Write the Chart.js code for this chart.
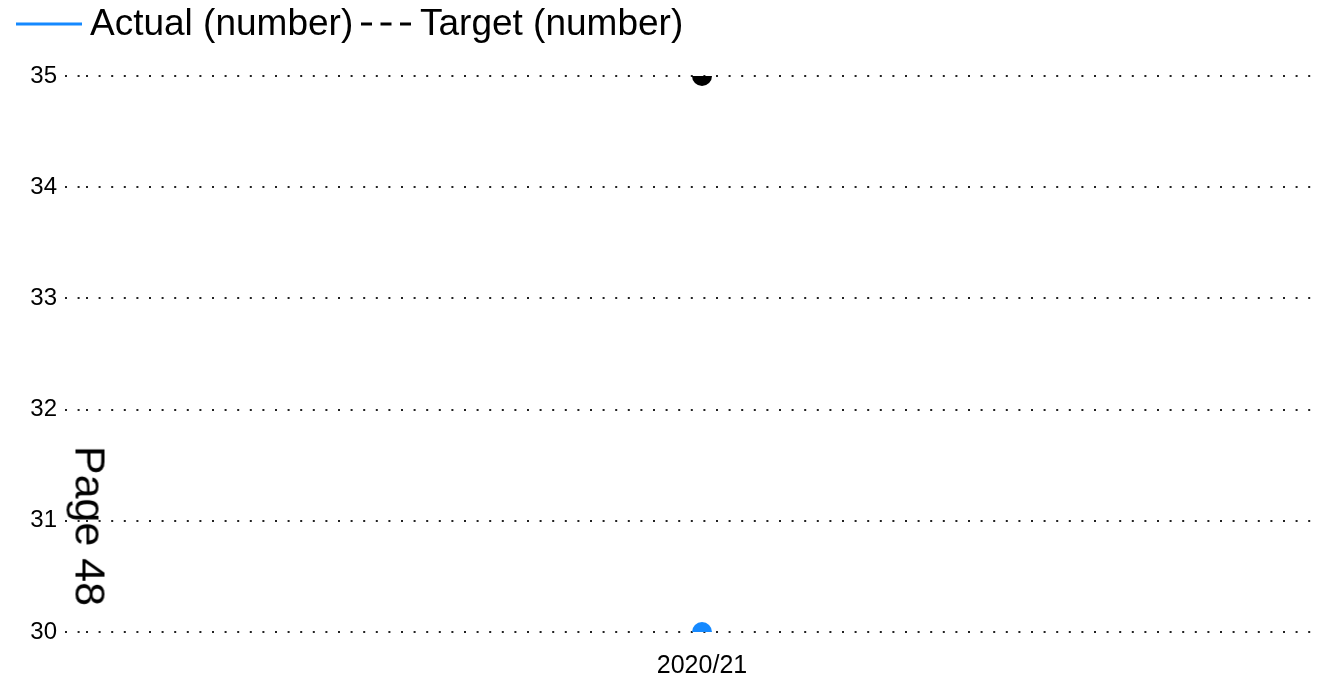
<!DOCTYPE html>
<html>
<head>
<meta charset="utf-8">
<script src="https://cdn.jsdelivr.net/npm/chart.js@4.4.1/dist/chart.umd.min.js"></script>
<style>
html,body{margin:0;padding:0;background:#fff;}
#wrap{position:relative;width:1321px;height:673px;overflow:hidden;}
#page{position:absolute;left:90px;top:526px;transform:translate(-50%,-50%) rotate(90deg);font:43px "Liberation Sans",Arial,sans-serif;white-space:nowrap;color:#000;line-height:1;}
</style>
</head>
<body>
<div id="wrap">
<canvas id="c" width="1321" height="673"></canvas>
<div id="page">Page 48</div>
</div>
<script>
const categories = ['2020/21'];
const actualValues = [30];
const targetValues = [35];
const seriesNames = ['Actual (number)', 'Target (number)'];
const yMin = 30, yMax = 35, yStep = 1;

const FONT = '"Liberation Sans", Arial, sans-serif';

const legendPlugin = {
  id: 'customLegend',
  afterDraw(chart, args, opts) {
    const ctx = chart.ctx;
    ctx.save();
    ctx.font = opts.fontSize + 'px ' + FONT;
    ctx.textBaseline = 'middle';
    ctx.textAlign = 'left';
    const y = opts.y;
    chart.data.datasets.forEach((ds, i) => {
      const [x0, x1, tx] = opts.items[i];
      ctx.beginPath();
      ctx.setLineDash(ds.borderDash || []);
      ctx.strokeStyle = ds.borderColor;
      ctx.lineWidth = 3;
      ctx.moveTo(x0, y);
      ctx.lineTo(x1, y);
      ctx.stroke();
      ctx.setLineDash([]);
      ctx.fillStyle = '#000';
      ctx.fillText(ds.label, tx, y + 1);
    });
    ctx.restore();
  }
};

new Chart(document.getElementById('c'), {
  type: 'line',
  data: {
    labels: categories,
    datasets: [
      {
        label: seriesNames[0],
        data: actualValues,
        borderColor: '#1589ff',
        backgroundColor: '#1589ff',
        pointBackgroundColor: '#1589ff',
        pointBorderWidth: 0,
        pointRadius: 10,
        borderWidth: 3,
        clip: 0
      },
      {
        label: seriesNames[1],
        data: targetValues,
        borderColor: '#000',
        backgroundColor: '#000',
        pointBackgroundColor: '#000',
        pointBorderWidth: 0,
        pointRadius: 10,
        borderWidth: 3,
        borderDash: [11, 8.5],
        clip: 0
      }
    ]
  },
  plugins: [legendPlugin],
  options: {
    responsive: false,
    animation: false,
    layout: { autoPadding: false, padding: { top: 76, right: 3, left: 0, bottom: 0 } },
    plugins: {
      legend: { display: false },
      tooltip: { enabled: false },
      customLegend: { fontSize: 37, y: 24, items: [[16, 82, 90], [361, 412, 420]] }
    },
    scales: {
      x: {
        offset: true,
        grid: { display: false },
        border: { display: false },
        ticks: { color: '#000', font: { size: 25, family: FONT }, padding: 11 },
        afterFit(s) { s.height = 41; }
      },
      y: {
        min: yMin,
        max: yMax,
        ticks: { stepSize: yStep, color: '#000', font: { size: 24, family: FONT }, padding: 8 },
        grid: { color: '#222', lineWidth: 2, tickLength: 21, tickColor: '#222', tickWidth: 2, tickBorderDash: [2, 10.6] },
        border: { display: false, dash: [2, 10.6] },
        afterFit(s) { s.width = 86; }
      }
    }
  }
});
</script>
</body>
</html>
